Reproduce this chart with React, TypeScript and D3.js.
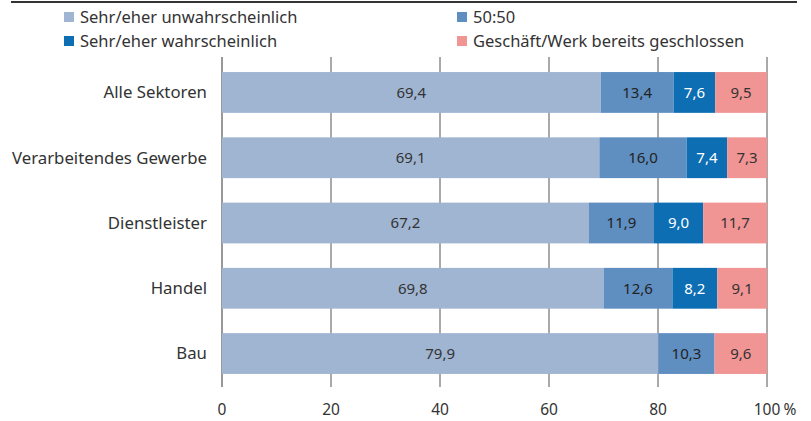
import React from "react";
import * as d3 from "d3";

const categories = ["Alle Sektoren", "Verarbeitendes Gewerbe", "Dienstleister", "Handel", "Bau"];
const seriesNames = ["Sehr/eher unwahrscheinlich", "50:50", "Sehr/eher wahrscheinlich", "Geschäft/Werk bereits geschlossen"];
const unwahrscheinlich = [69.4, 69.1, 67.2, 69.8, 79.9];
const fiftyFifty = [13.4, 16.0, 11.9, 12.6, 10.3];
const wahrscheinlich = [7.6, 7.4, 9.0, 8.2, 0];
const geschlossen = [9.5, 7.3, 11.7, 9.1, 9.6];
const xTicks = [0, 20, 40, 60, 80, 100];

const colors = ["#A0B5D2", "#5F8EC1", "#0D6EB3", "#F09494"];
const textColors = ["#333", "#222", "#fff", "#333"];
const font = "'Source Sans Pro', 'Noto Sans', sans-serif";

export default function App() {
  const W = 811, H = 421;
  const x = d3.scaleLinear().domain([0, 100]).range([222, 767]);
  const y = d3.scaleBand().domain(categories).range([59, 387]).paddingInner(0.375).paddingOuter(0.2);
  const series = [unwahrscheinlich, fiftyFifty, wahrscheinlich, geschlossen];
  const stackData = categories.map((c, i) => {
    const total = d3.sum(series, (s) => s[i]);
    const o: any = { cat: c };
    seriesNames.forEach((s, k) => (o[s] = (series[k][i] / total) * 100));
    return o;
  });
  const stacked = d3.stack().keys(seriesNames)(stackData as any);
  const fmt = (v: number) => v.toFixed(1).replace(".", ",");
  const legendPos = [
    [64, 17], [457, 17], [64, 41], [457, 41],
  ];
  return (
    <svg width={W} height={H} style={{ position: "absolute", left: 0, top: 0 }} fontFamily={font}>
      <line x1={11} x2={797} y1={2} y2={2} stroke="#333" strokeWidth={2} />
      {seriesNames.map((s, k) => (
        <g key={s}>
          <rect x={legendPos[k][0]} y={legendPos[k][1] - 5} width={10} height={10} fill={colors[k]} />
          <text x={legendPos[k][0] + 16} y={legendPos[k][1]} dy="0.35em" fontSize={16.5} fill="#333">{s}</text>
        </g>
      ))}
      {xTicks.map((t) => (
        <g key={t}>
          <line x1={x(t)} x2={x(t)} y1={57} y2={387} stroke={t === 0 ? "#333" : "#555"} strokeWidth={1} />
          <text x={x(t)} y={410} dy="0.35em" textAnchor="middle" fontSize={15.5} fill="#333">{t}</text>
        </g>
      ))}
      <text x={790} y={410} dy="0.35em" textAnchor="middle" fontSize={15.5} fill="#333">%</text>
      {stacked.map((layer, k) => (
        <g key={k}>
          {layer.map((d: any, i) => {
            const v = series[k][i];
            if (v <= 0) return null;
            const cat = categories[i];
            const x0 = x(d[0]), x1 = x(d[1]);
            return (
              <g key={cat}>
                <rect x={x0} y={y(cat)} width={x1 - x0} height={y.bandwidth()} fill={colors[k]} />
                <text x={(x0 + x1) / 2} y={(y(cat) as number) + y.bandwidth() / 2} dy="0.35em" textAnchor="middle" fontSize={15} fill={textColors[k]}>{fmt(v)}</text>
              </g>
            );
          })}
        </g>
      ))}
      {categories.map((c) => (
        <text key={c} x={207} y={(y(c) as number) + y.bandwidth() / 2} dy="0.35em" textAnchor="end" fontSize={16.8} fill="#333">{c}</text>
      ))}
    </svg>
  );
}
